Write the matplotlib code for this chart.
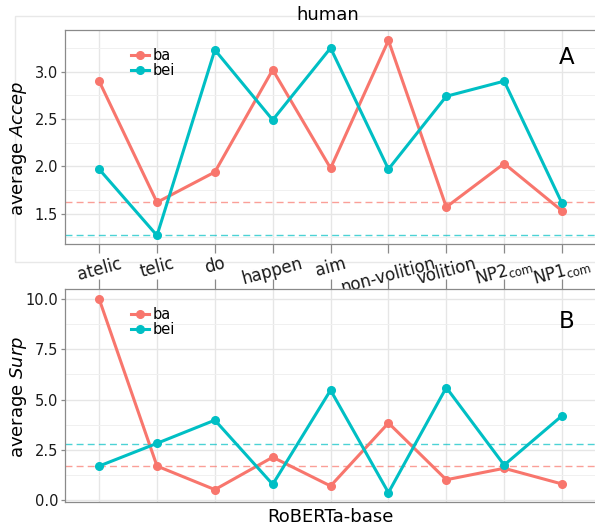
import matplotlib.pyplot as plt
import numpy as np
from matplotlib.patches import Rectangle
from matplotlib.lines import Line2D

categories = ['atelic', 'telic', 'do', 'happen', 'aim', 'non-volition', 'volition',
              r'NP2$_\mathregular{com}$', r'NP1$_\mathregular{com}$']
series = ['ba', 'bei']

# panel A: human acceptability
accep_ba = [2.90, 1.62, 1.94, 3.02, 1.98, 3.33, 1.57, 2.03, 1.53]
accep_bei = [1.97, 1.27, 3.23, 2.49, 3.25, 1.97, 2.74, 2.90, 1.61]
accep_ref = [1.62, 1.27]

# panel B: RoBERTa-base surprisal
surp_ba = [10.0, 1.70, 0.53, 2.14, 0.71, 3.84, 1.02, 1.59, 0.81]
surp_bei = [1.70, 2.83, 3.98, 0.79, 5.47, 0.38, 5.60, 1.75, 4.20]
surp_ref = [1.70, 2.81]

colors = ['#F8766D', '#00BFC4']
spine_col = '#8a8a8a'

fig = plt.figure(figsize=(5.95, 5.28), dpi=100)
ax1 = fig.add_axes([65/595, 1 - 244/528, 530/595, 214/528])
ax2 = fig.add_axes([65/595, 1 - 502.3/528, 530/595, 213/528])

x = np.arange(len(categories))


def style_panel(ax, yticks, minor, ylim):
    ax.set_xlim(-0.59, 8.57)
    ax.set_ylim(*ylim)
    ax.set_yticks(yticks)
    ax.set_yticks(minor, minor=True)
    ax.set_xticks(x)
    ax.grid(True, which='major', color='#e6e6e6', lw=1.0)
    ax.grid(True, which='minor', axis='y', color='#f0f0f0', lw=0.7)
    ax.set_axisbelow(True)
    for s in ['left', 'top', 'bottom']:
        ax.spines[s].set_color(spine_col)
        ax.spines[s].set_linewidth(0.9)
    ax.spines['right'].set_visible(False)
    ax.tick_params(axis='y', which='major', length=3, width=0.9, color=spine_col,
                   labelsize=10.5, labelcolor='#1a1a1a', pad=2)
    ax.tick_params(axis='y', which='minor', length=0)
    ax.tick_params(axis='x', length=6.5, width=0.9, color=spine_col,
                   labelsize=12, labelcolor='#1a1a1a', pad=1)


def draw(ax, vals, refs):
    for v, r, c, name in zip(vals, refs, colors, series):
        ax.axhline(r, color=c, lw=1.0, alpha=0.7, ls=(0, (5, 3)), zorder=2)
        ax.plot(x, v, color=c, lw=2.2, marker='o', ms=5.5, label=name, zorder=3)
    handles = [Line2D([], [], color=c, lw=2.2, marker='o', ms=5.5) for c in colors]
    ax.legend(handles, series, loc='upper left', bbox_to_anchor=(0.125, 0.915),
              frameon=False, fontsize=10.5, handlelength=1.2, handletextpad=0.25,
              labelspacing=0.0, borderpad=0, borderaxespad=0)


draw(ax1, [accep_ba, accep_bei], accep_ref)
style_panel(ax1, [1.5, 2.0, 2.5, 3.0], [1.25, 1.75, 2.25, 2.75, 3.25], (1.18, 3.44))
ax1.set_xticklabels(categories, rotation=15, ha='center')
ax1.set_yticklabels(['1.5', '2.0', '2.5', '3.0'])
ax1.text(0.946, 0.87, 'A', transform=ax1.transAxes, fontsize=16.5, ha='center', va='center')

draw(ax2, [surp_ba, surp_bei], surp_ref)
style_panel(ax2, [0, 2.5, 5.0, 7.5, 10.0], [1.25, 3.75, 6.25, 8.75], (-0.1, 10.48))
ax2.set_yticklabels(['0.0', '2.5', '5.0', '7.5', '10.0'])
ax2.xaxis.tick_top()
ax2.tick_params(axis='x', length=7, labeltop=False, labelbottom=False)
ax2.text(0.947, 0.85, 'B', transform=ax2.transAxes, fontsize=16.5, ha='center', va='center')

# light outer frame around the upper plot
fig.add_artist(Rectangle((15/595, 1 - 262/528), 600/595, 246/528, transform=fig.transFigure,
                         fill=False, ec='#e8e8e8', lw=1.0, zorder=0))

fig.text(328/595, 1 - 15/528, 'human', ha='center', va='center', fontsize=13)
fig.text(19/595, 1 - 148/528, r'average $\mathit{Accep}$', rotation=90,
         ha='center', va='center', fontsize=13)
fig.text(19/595, 1 - 397/528, r'average $\mathit{Surp}$', rotation=90,
         ha='center', va='center', fontsize=13)
fig.text(330/595, 2/528, 'RoBERTa-base', ha='center', va='bottom', fontsize=13)

fig.savefig('out.png', dpi=100)
